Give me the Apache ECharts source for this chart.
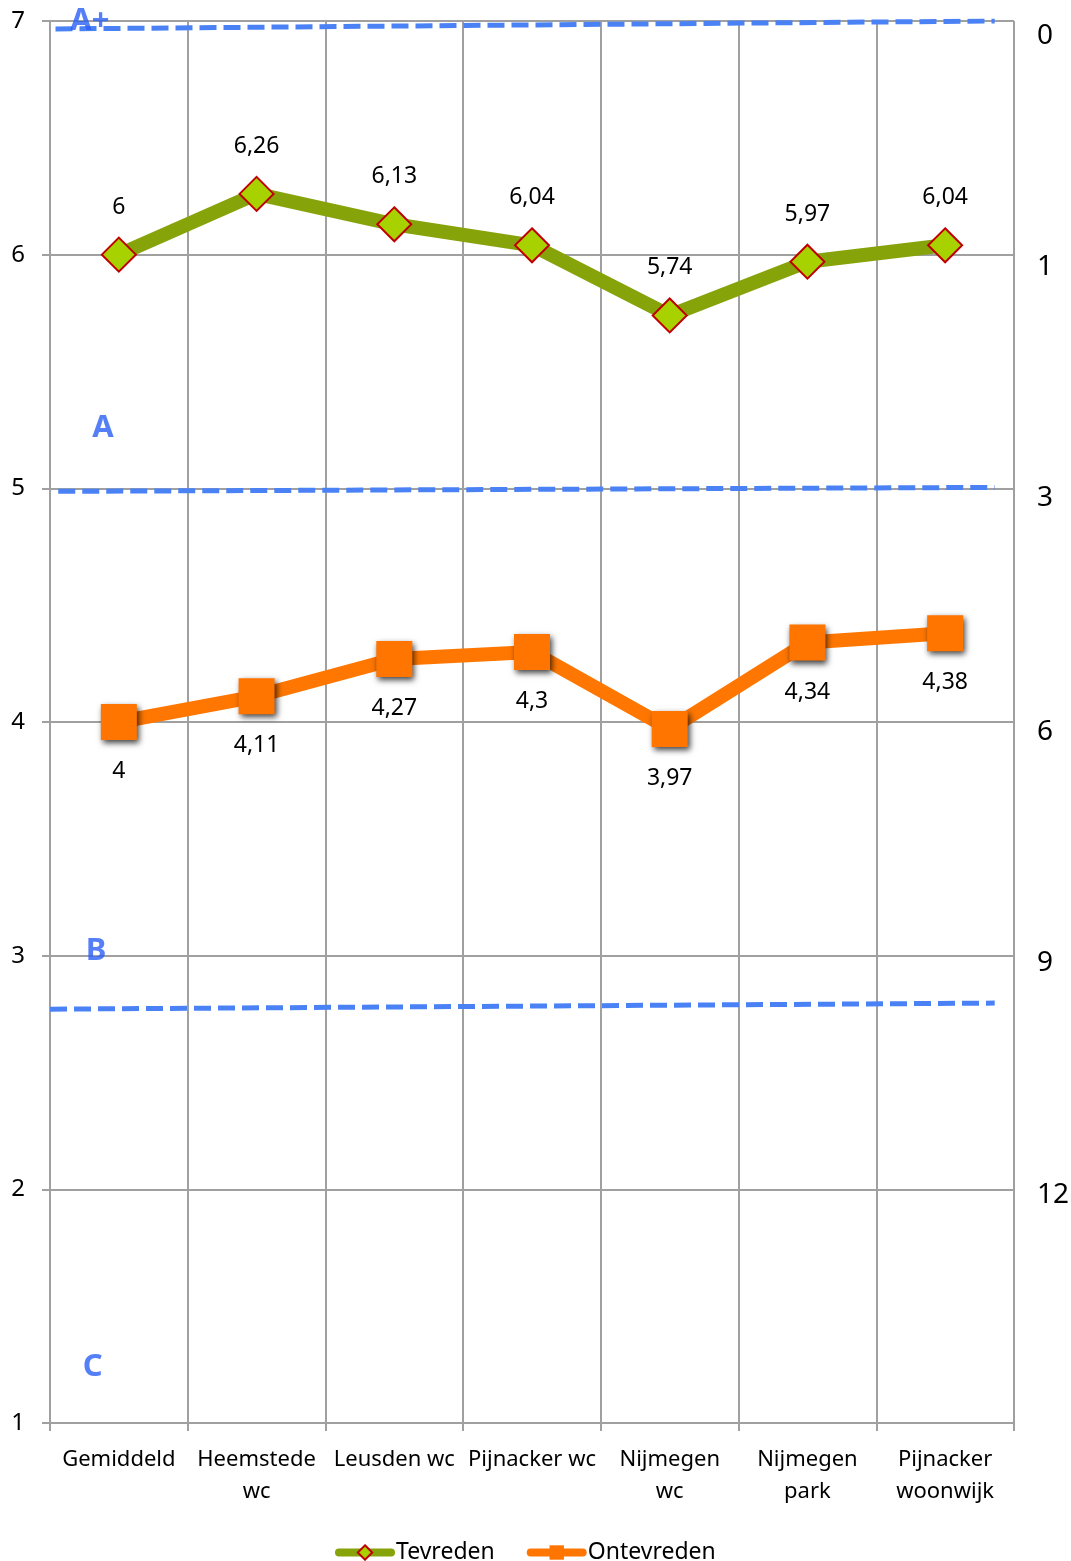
<!DOCTYPE html>
<html>
<head>
<meta charset="utf-8">
<script src="https://cdn.jsdelivr.net/npm/echarts@6/dist/echarts.min.js"></script>
<style>html,body{margin:0;padding:0;background:#fff}#c{width:1071px;height:1561px}</style>
</head>
<body>
<div id="c"></div>
<script>
const categories = ['Gemiddeld', 'Heemstede\nwc', 'Leusden wc', 'Pijnacker wc', 'Nijmegen\nwc', 'Nijmegen\npark', 'Pijnacker\nwoonwijk'];
const tevreden = [6, 6.26, 6.13, 6.04, 5.74, 5.97, 6.04];
const ontevreden = [4, 4.11, 4.27, 4.3, 3.97, 4.34, 4.38];
const rightTickLabels = { 7: '0', 6: '1', 5: '3', 4: '6', 3: '9', 2: '12', 1: '' };
// band boundary lines (x in category units 0..7, y on left scale)
const bandAPlus = [[0.04, 6.966], [6.86, 7.0]];
const bandA = [[0.06, 4.987], [6.86, 5.004]];
const bandB = [[0.0, 2.771], [6.86, 2.797]];
const bandLabels = [
  { name: 'A+', value: [0.29, 7.0] },
  { name: 'A', value: [0.385, 5.258] },
  { name: 'B', value: [0.334, 3.02] },
  { name: 'C', value: [0.31, 1.24] }
];

const FONT = 'Noto Sans';
const GRAY = '#a0a0a0';
const BLUE = '#4a82f5';
const fmt = v => String(v).replace('.', ',');
// vertical shift (px) of right-axis labels below their gridline
const rightShift = { 7: 15, 6: 12, 5: 10, 4: 10, 3: 7, 2: 6, 1: 0 };

const chart = echarts.init(document.getElementById('c'));
const dashSeries = (data) => ({
  type: 'line', xAxisIndex: 1, yAxisIndex: 0, data: data, symbol: 'none', silent: true,
  lineStyle: { color: BLUE, width: 5, type: [17, 7] }, z: 5
});
const rich = {};
Object.keys(rightShift).forEach(k => {
  rich['s' + k] = { fontSize: 28, color: '#000', fontFamily: FONT, padding: [2 * rightShift[k], 0, 0, 0] };
});
chart.setOption({
  animation: false,
  textStyle: { fontFamily: FONT },
  grid: { left: 50, right: 57, top: 21, bottom: 138, outerBoundsMode: 'none' },
  legend: {
    data: [
      { name: 'Tevreden', itemStyle: { borderWidth: 2 } },
      { name: 'Ontevreden' }
    ],
    top: 1536, left: 330,
    itemWidth: 52, itemHeight: 18, itemGap: 32,
    lineStyle: { width: 8, cap: 'round' },
    textStyle: { fontFamily: FONT, fontSize: 23, color: '#000' }
  },
  xAxis: [
    {
      type: 'category', data: categories, boundaryGap: true,
      axisLine: { lineStyle: { color: GRAY, width: 2 } },
      axisTick: { show: true, length: 8, lineStyle: { color: GRAY, width: 2 } },
      splitLine: { show: true, lineStyle: { color: GRAY, width: 2 } },
      axisLabel: { interval: 0, margin: 21, fontSize: 22, lineHeight: 32, color: '#000', fontFamily: FONT }
    },
    { type: 'value', min: 0, max: 7, show: false }
  ],
  yAxis: [
    {
      type: 'value', min: 1, max: 7, interval: 1,
      axisLine: { show: true, lineStyle: { color: GRAY, width: 2 } },
      axisTick: { show: true, length: 8, lineStyle: { color: GRAY, width: 2 } },
      splitLine: { show: true, lineStyle: { color: GRAY, width: 2 } },
      axisLabel: {
        margin: 25, color: '#000', fontFamily: FONT,
        formatter: v => '{t|' + v + '}',
        rich: { t: { fontSize: 24, color: '#000', fontFamily: FONT } }
      }
    },
    {
      type: 'value', min: 1, max: 7, interval: 1, position: 'right',
      axisLine: { show: false }, axisTick: { show: false }, splitLine: { show: false },
      axisLabel: {
        margin: 23, fontSize: 28, color: '#000', fontFamily: FONT,
        formatter: v => rightTickLabels[v] ? '{s' + v + '|' + rightTickLabels[v] + '}' : '',
        rich: rich
      }
    }
  ],
  series: [
    dashSeries(bandAPlus), dashSeries(bandA), dashSeries(bandB),
    {
      type: 'scatter', xAxisIndex: 1, yAxisIndex: 0, symbolSize: 0, silent: true, z: 6,
      data: bandLabels,
      label: { show: true, position: 'inside', formatter: p => p.name, color: '#2a5ff5', fontSize: 31, fontWeight: 'bold', fontFamily: FONT }
    },
    {
      name: 'Tevreden', type: 'line', data: tevreden, z: 10,
      lineStyle: { color: '#86a30a', width: 14 },
      itemStyle: { color: '#a8d100', borderColor: '#c00000', borderWidth: 2 },
      symbol: 'diamond', symbolSize: 34,
      label: { show: true, position: 'top', distance: 18, fontSize: 23, color: '#000', fontFamily: FONT, formatter: p => fmt(p.value) }
    },
    {
      name: 'Ontevreden', type: 'line', data: ontevreden, z: 10,
      lineStyle: { color: '#ff7700', width: 14 },
      itemStyle: { color: '#ff7500', shadowColor: 'rgba(0,0,0,0.75)', shadowBlur: 6, shadowOffsetX: 2, shadowOffsetY: 3 },
      symbol: 'rect', symbolSize: 36,
      label: { show: true, position: 'bottom', distance: 20, fontSize: 23, color: '#000', fontFamily: FONT, formatter: p => fmt(p.value) }
    }
  ]
});
</script>
</body>
</html>
